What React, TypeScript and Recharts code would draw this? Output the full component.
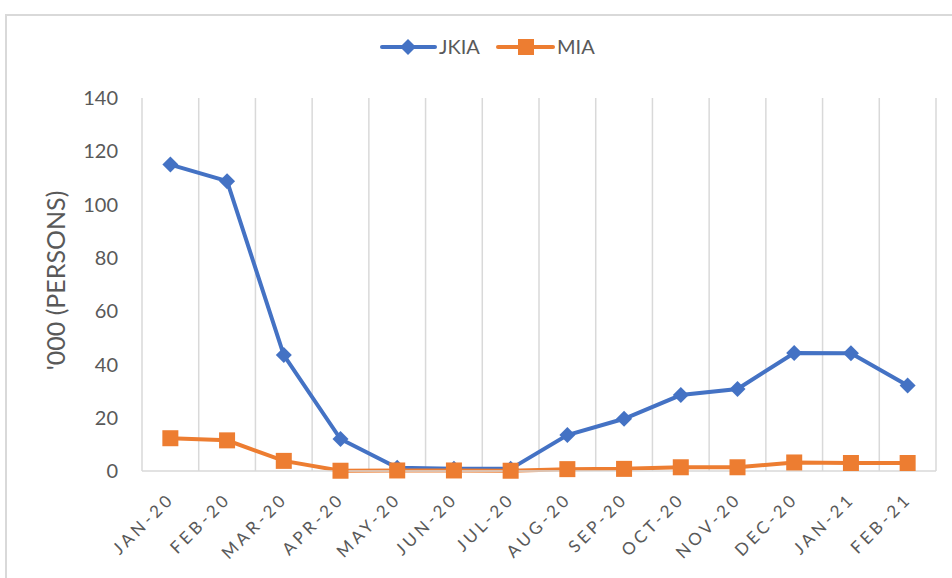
import { LineChart, Line, XAxis, YAxis, CartesianGrid, Legend } from 'recharts';

const months = [
  'JAN-20', 'FEB-20', 'MAR-20', 'APR-20', 'MAY-20', 'JUN-20', 'JUL-20',
  'AUG-20', 'SEP-20', 'OCT-20', 'NOV-20', 'DEC-20', 'JAN-21', 'FEB-21',
];
const jkia = [115, 108.8, 43.5, 12, 1.2, 0.8, 0.8, 13.5, 19.6, 28.5, 30.8, 44.3, 44.2, 32.1];
const mia = [12.3, 11.5, 3.8, 0.1, 0.2, 0.2, 0.1, 0.7, 0.8, 1.4, 1.4, 3.2, 3, 3];
const yTicks = [0, 20, 40, 60, 80, 100, 120, 140];

const data = months.map((m, i) => ({ month: m, JKIA: jkia[i], MIA: mia[i] }));

const BLUE = '#4472C4';
const ORANGE = '#ED7D31';
const FONT = 'Lato, "Noto Sans", sans-serif';

const Diamond = (props: any) => {
  const { cx, cy } = props;
  if (cx == null || cy == null) return null;
  return <path d={`M${cx},${cy - 8}L${cx + 8},${cy}L${cx},${cy + 8}L${cx - 8},${cy}Z`} fill={BLUE} />;
};

const Square = (props: any) => {
  const { cx, cy } = props;
  if (cx == null || cy == null) return null;
  return <rect x={cx - 8} y={cy - 8} width={16} height={16} fill={ORANGE} />;
};

const MonthTick = (props: any) => {
  const { x, y, payload } = props;
  const tx = x + 5;
  const ty = y + 29;
  return (
    <text
      x={tx}
      y={ty}
      transform={`rotate(-45 ${tx} ${ty})`}
      textAnchor="end"
      fill="#595959"
      fontSize={17}
      letterSpacing={3.5}
      fontFamily={FONT}
    >
      {payload.value}
    </text>
  );
};

const renderLegend = () => (
  <svg width={952} height={30}>
    <line x1={382} y1={15} x2={435} y2={15} stroke={BLUE} strokeWidth={4} strokeLinecap="round" />
    <path d="M408,7L416,15L408,23L400,15Z" fill={BLUE} />
    <text x={439} y={22} fontSize={20} fill="#595959" fontFamily={FONT}>JKIA</text>
    <line x1={498} y1={15} x2={553} y2={15} stroke={ORANGE} strokeWidth={4} strokeLinecap="round" />
    <rect x={518} y={7} width={16} height={16} fill={ORANGE} />
    <text x={557} y={22} fontSize={20} fill="#595959" fontFamily={FONT}>MIA</text>
  </svg>
);

export default function App() {
  return (
    <div style={{ position: 'absolute', left: 0, top: 0, width: 952, height: 578, overflow: 'hidden', background: '#fff' }}>
      <div
        style={{
          position: 'absolute', left: 5, top: 14, width: 980, height: 600,
          border: '2px solid #d9d9d9', boxSizing: 'border-box',
        }}
      />
      <LineChart
        width={952}
        height={578}
        data={data}
        margin={{ top: 68, right: 16, bottom: 106, left: 0 }}
      >
        <CartesianGrid
          horizontal={false}
          stroke="#d9d9d9"
          strokeWidth={1.5}
          verticalCoordinatesGenerator={({ offset }: any) =>
            Array.from({ length: months.length + 1 }, (_, i) => offset.left + (i * offset.width) / months.length)
          }
        />
        <XAxis
          dataKey="month"
          height={1}
          interval={0}
          tickLine={false}
          tickSize={0}
          tickMargin={0}
          axisLine={{ stroke: '#d9d9d9', strokeWidth: 1.5 }}
          padding={{ left: 794 / 28, right: 794 / 28 }}
          tick={<MonthTick />}
        />
        <YAxis
          width={142}
          domain={[0, 140]}
          ticks={yTicks}
          axisLine={false}
          tickLine={false}
          tickSize={0}
          tickMargin={24}
          tick={{ fill: '#595959', fontSize: 20, fontFamily: FONT }}
          label={{
            content: ({ viewBox }: any) => {
              const cy = viewBox.y + viewBox.height / 2 - 4;
              return (
                <text
                  x={65}
                  y={cy}
                  transform={`rotate(-90 65 ${cy})`}
                  textAnchor="middle"
                  fill="#595959"
                  fontSize={25}
                  fontFamily={FONT}
                >
                  '000 (PERSONS)
                </text>
              );
            },
          }}
        />
        <Legend
          verticalAlign="top"
          content={renderLegend}
          wrapperStyle={{ position: 'absolute', top: 32, left: 0, width: 952, height: 30 }}
        />
        <Line
          dataKey="JKIA"
          stroke={BLUE}
          strokeWidth={4}
          dot={<Diamond />}
          activeDot={false}
          isAnimationActive={false}
        />
        <Line
          dataKey="MIA"
          stroke={ORANGE}
          strokeWidth={4}
          dot={<Square />}
          activeDot={false}
          isAnimationActive={false}
        />
      </LineChart>
    </div>
  );
}
